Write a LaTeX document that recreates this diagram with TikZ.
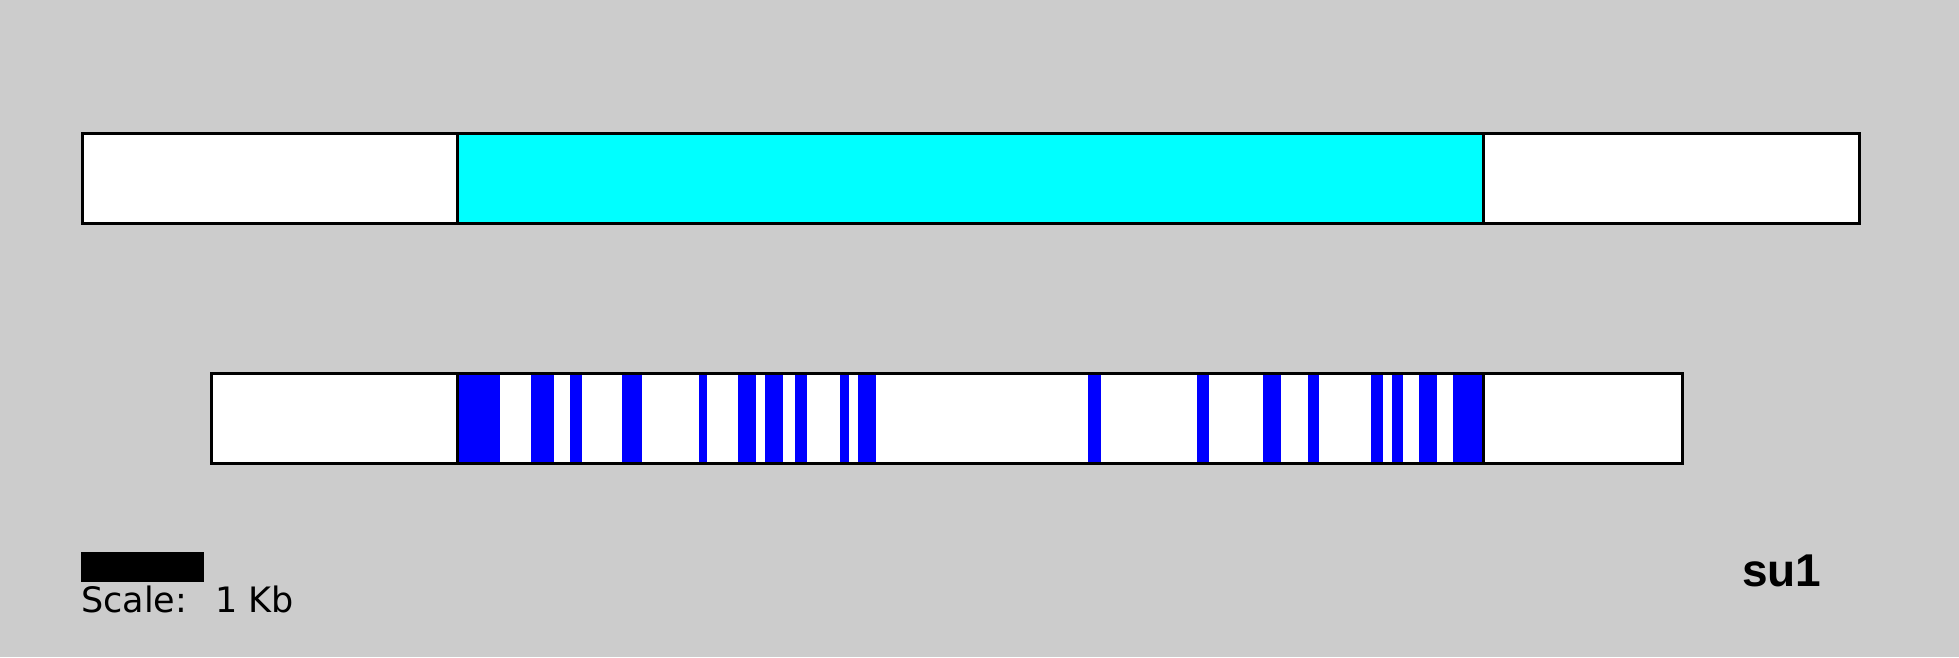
\documentclass[tikz,border=0pt]{standalone}
\usepackage{fontspec}
\setmainfont{Liberation Sans}
\newfontfamily\scalefont{DejaVu Sans}
\definecolor{bg}{HTML}{CCCCCC}
\definecolor{cy}{HTML}{00FFFF}
\definecolor{bl}{HTML}{0000FF}
\begin{document}
\begin{tikzpicture}[x=1pt,y=-1pt,
  barline/.style={draw=black,line width=3pt},
  stripe/.style={fill=bl}]
\fill[bg] (0,0) rectangle (1959,657);
\useasboundingbox (0,0) rectangle (1959,657);
% top bar
\fill[white] (82,133) rectangle (1859,223);
\fill[cy] (457,133) rectangle (1483,223);
\draw[barline] (82,133) rectangle (1859,223);
\draw[barline] (457,133) -- (457,223);
\draw[barline] (1483,133) -- (1483,223);
% bottom bar
\fill[white] (211,373) rectangle (1682,463);
\foreach \a/\b in {457/500,531/554,570/582,622/642,699/707,738/756,765/783,795/807,840/849,858/876,1088/1101,1197/1209,1263/1281,1308/1319,1371/1383,1392/1403,1419/1437,1453/1483}
  \fill[stripe] (\a,373) rectangle (\b,463);
\draw[barline] (211,373) rectangle (1682,463);
\draw[barline] (457,373) -- (457,463);
\draw[barline] (1483,373) -- (1483,463);
% scale bar
\fill[black] (81,552) rectangle (204,582);
\node[anchor=base west,inner sep=0pt,font=\scalefont\fontsize{35}{35}\selectfont] (scale) at (81,612) {Scale:\hspace{28pt}1 Kb};
\node[anchor=base west,inner sep=0pt,font=\bfseries\fontsize{46}{46}\selectfont] (su) at (1742,586) {su1};
\end{tikzpicture}
\end{document}
